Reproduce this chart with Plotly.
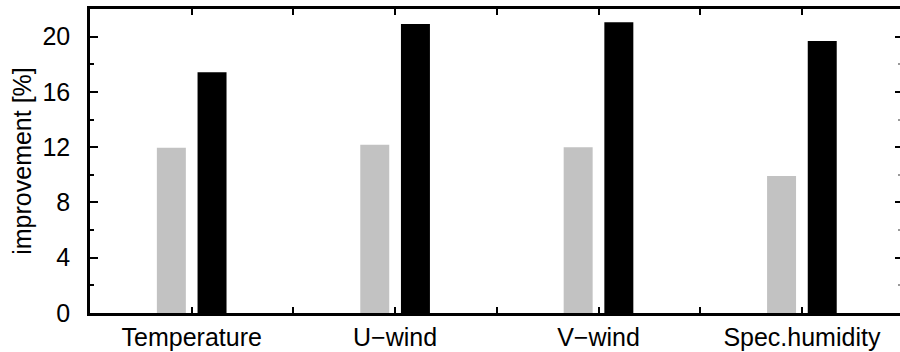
import plotly.graph_objects as go

categories = ["Temperature", "U\u2212wind", "V\u2212wind", "Spec.humidity"]
grey_values = [11.95, 12.17, 12.0, 9.92]
black_values = [17.42, 20.92, 21.04, 19.69]
y_label = "improvement [%]"

FONT = dict(family="Liberation Sans, Arial, sans-serif", size=25, color="black")

# category centres at 1,3,5,7 with ticks at every integer
xpos = [1 + 2 * i for i in range(len(categories))]
tickvals = list(range(1, 9))
ticktext = []
for t in tickvals:
    ticktext.append(categories[(t - 1) // 2] if (t - 1) % 2 == 0 else "")

bar_w = 0.285
shift = 0.2

fig = go.Figure()
fig.add_trace(go.Bar(x=xpos, y=grey_values, width=bar_w, offset=-shift - bar_w / 2,
                     marker=dict(color="#c2c2c2", line=dict(width=0)), showlegend=False))
fig.add_trace(go.Bar(x=xpos, y=black_values, width=bar_w, offset=shift - bar_w / 2,
                     marker=dict(color="#000000", line=dict(width=0)), showlegend=False))
# invisible trace to render the right-hand tick axis
fig.add_trace(go.Scatter(x=[1], y=[0], yaxis="y2", mode="markers",
                         marker=dict(opacity=0), showlegend=False, hoverinfo="skip"))

fig.update_layout(
    width=900, height=352,
    margin=dict(l=90, r=0, t=9, b=39),
    paper_bgcolor="white", plot_bgcolor="white",
    font=FONT,
    barmode="overlay",
    xaxis=dict(
        range=[0, 8 * 810 / 813.6],
        tickvals=tickvals, ticktext=ticktext,
        ticks="inside", ticklen=6, tickwidth=2, tickcolor="black",
        showline=True, linewidth=2.5, linecolor="black", mirror="ticks",
        showgrid=False, zeroline=False, ticklabelstandoff=0,
        tickfont=FONT,
    ),
    yaxis=dict(
        range=[0, 22], dtick=4, tick0=0,
        ticks="inside", ticklen=8, tickwidth=2, tickcolor="black",
        minor=dict(dtick=2, ticks="inside", ticklen=4, tickwidth=2, tickcolor="black"),
        showline=True, linewidth=2.5, linecolor="black", mirror=False,
        showgrid=False, zeroline=False, ticklabelstandoff=12,
        tickfont=FONT,
        title=dict(text=y_label, font=FONT, standoff=4),
    ),
    yaxis2=dict(
        range=[0, 22], dtick=4, tick0=0, overlaying="y", side="right",
        anchor="free", position=1,
        ticks="inside", ticklen=5, tickwidth=2, tickcolor="black",
        minor=dict(dtick=2, ticks="inside", ticklen=2, tickwidth=1.5, tickcolor="#999999"),
        showline=False, showgrid=False, zeroline=False, showticklabels=False,
    ),
)

fig.write_html("out.html")
